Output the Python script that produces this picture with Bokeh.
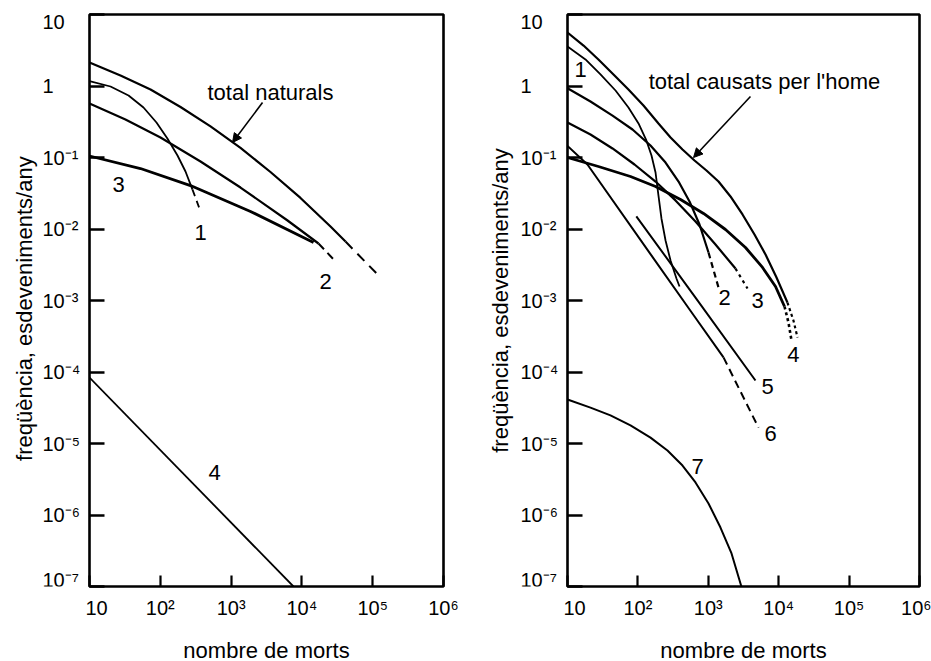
from bokeh.plotting import figure
from bokeh.models import (FixedTicker, CustomJSTickFormatter, Arrow, NormalHead, Range1d)
from bokeh.layouts import row
from bokeh.embed import file_html
from bokeh.resources import INLINE
from bokeh.core.properties import value

FONT = "Liberation Sans"

# ---------------- axes ----------------
x_ticks = [10, 100, 1000, 10000, 100000, 1000000]
x_tick_labels = ["10", "10²", "10³", "10⁴", "10⁵", "10⁶"]
y_ticks = [10, 1, 0.1, 0.01, 0.001, 1e-4, 1e-5, 1e-6, 1e-7]
y_tick_labels = ["10", "1", "10⁻¹", "10⁻²", "10⁻³", "10⁻⁴", "10⁻⁵", "10⁻⁶", "10⁻⁷"]
x_title = "nombre de morts"
y_title = "freqüència, esdeveniments/any"

# ---------------- left panel: natural events ----------------
nat_total_x = [10, 27.4, 72.8, 193, 512, 1358, 3597, 9550, 25350, 41300]
nat_total_y = [2.13, 1.40, 0.893, 0.508, 0.272, 0.136, 0.0627, 0.0272, 0.01084, 0.00668]
nat_total_dash_x = [41300, 128800]
nat_total_dash_y = [0.00668, 0.0021]

nat1_x = [10, 19.8, 35.6, 57.9, 88.3, 126, 175, 227, 285]
nat1_y = [1.17, 0.984, 0.736, 0.500, 0.309, 0.1845, 0.1067, 0.0637, 0.0356]
nat1_dash_x = [285, 370]
nat1_dash_y = [0.0356, 0.0176]

nat2_x = [10, 32.2, 100.7, 370, 1358, 6270, 17150]
nat2_y = [0.569, 0.340, 0.1906, 0.0879, 0.0380, 0.01315, 0.00627]
nat2_dash_x = [17150, 30000]
nat2_dash_y = [0.00627, 0.0035]

nat3_x = [10, 52.5, 267, 1880, 14600]
nat3_y = [0.105, 0.0701, 0.0405, 0.0176, 0.00647]

nat4_x = [10, 7600]
nat4_y = [8.37e-5, 1e-7]

nat_label_text = ["1", "2", "3", "4"]
nat_label_x = [370, 21550, 25.7, 583]
nat_label_y = [0.00893, 0.001845, 0.0419, 3.93e-6]
nat_title = "total naturals"

# ---------------- right panel: man-caused events ----------------
man_total_x = [10, 16.9, 27.5, 45.0, 73.4, 120, 196, 291, 430, 637, 942, 1396,
               2066, 3062, 4531, 6500, 9310, 13300]
man_total_y = [5.60, 3.68, 2.35, 1.45, 0.893, 0.533, 0.299, 0.1905, 0.1294, 0.0908,
               0.0658, 0.0461, 0.0285, 0.01596, 0.00837, 0.00440, 0.00210, 0.000937]
man_total_dot_x = [13300, 16200, 18500]
man_total_dot_y = [0.000937, 0.000525, 0.000304]

man1_x = [10, 18.0, 29.4, 48.1, 73.4, 102, 132, 156, 178, 196, 216, 247, 291, 353, 390]
man1_y = [3.56, 2.35, 1.45, 0.865, 0.500, 0.299, 0.173, 0.1067, 0.0617, 0.0294,
          0.01403, 0.0069, 0.00362, 0.00203, 0.00157]

man2_x = [10, 21.2, 43.6, 83.8, 151, 247, 378, 541, 750, 1007]
man2_y = [0.93, 0.607, 0.386, 0.2466, 0.1472, 0.0851, 0.0461, 0.0243, 0.01156, 0.00469]
man2_dash_x = [1007, 1396]
man2_dash_y = [0.00469, 0.00152]

man3_x = [10, 21.2, 43.6, 89.5, 178, 342, 658, 1265, 2432]
man3_y = [0.309, 0.210, 0.1337, 0.0798, 0.0461, 0.0251, 0.01274, 0.00607, 0.0028]
man3_dot_x = [2432, 3606]
man3_dot_y = [0.0028, 0.00147]

man4_x = [10, 27.5, 78.5, 178, 403, 855, 1754, 3373, 5890, 9010, 12090]
man4_y = [0.1, 0.0748, 0.0542, 0.0393, 0.0259, 0.01648, 0.00984, 0.00551, 0.00290,
          0.00157, 0.000824]
man4_dot_x = [12090, 13770, 15200]
man4_dot_y = [0.000824, 0.000492, 0.000276]

man5_x = [95, 658, 4677]
man5_y = [0.0150, 0.00110, 7.6e-5]

man6_x = [10, 19.2, 151, 558, 1644]
man6_y = [0.145, 0.0798, 0.00446, 7.18e-4, 1.60e-4]
man6_dash_x = [1644, 2866, 5165]
man6_dash_y = [1.60e-4, 5.33e-5, 1.67e-5]

man7_x = [10, 21.2, 40.8, 78.5, 151, 263, 430, 658, 1007, 1489, 2138, 2950]
man7_y = [4.12e-5, 3.18e-5, 2.47e-5, 1.79e-5, 1.21e-5, 7.98e-6, 4.92e-6, 2.85e-6,
          1.45e-6, 6.68e-7, 2.90e-7, 1.0e-7]

man_label_text = ["1", "2", "3", "4", "5", "6", "7"]
man_label_x = [15.3, 1700, 5000, 16200, 6935, 7650, 703]
man_label_y = [1.70, 0.0011, 1.0e-3, 1.76e-4, 6.27e-5, 1.38e-5, 4.77e-6]
man_title = "total causats per l'home"

# annotation anchor points (data space)
nat_title_pos = (3597, 0.824)
nat_arrow = (2780, 0.587, 1047, 0.162)
man_title_pos = (6280, 1.156)
man_arrow = (3972, 0.713, 617, 0.1)

X_FMT = """
let best = 0, bd = Infinity;
for (let i = 0; i < tv.length; i++) {
  const d = Math.abs(Math.log10(tick) - Math.log10(tv[i]));
  if (d < bd) { bd = d; best = i; }
}
return tl[best];
"""

FRAME_H = 572
TOP = 14
BOTTOM = 75


def make_panel(frame_w, border_r):
    p = figure(title=None, x_axis_type="log", y_axis_type="log",
               x_range=Range1d(10, 1e6), y_range=Range1d(1e-7, 10),
               frame_width=frame_w, frame_height=FRAME_H,
               min_border_left=4, min_border_right=border_r,
               min_border_top=TOP, min_border_bottom=BOTTOM,
               toolbar_location=None, output_backend="svg",
               background_fill_color="white", border_fill_color="white")
    p.xgrid.visible = False
    p.ygrid.visible = False
    p.outline_line_color = "black"
    p.outline_line_width = 2.6

    xa = p.xaxis[0]
    xa.ticker = FixedTicker(ticks=x_ticks)
    xa.formatter = CustomJSTickFormatter(args=dict(tv=x_ticks, tl=x_tick_labels), code=X_FMT)
    xa.axis_line_color = None
    xa.major_tick_in = 11
    xa.major_tick_out = 0
    xa.major_tick_line_width = 2.2
    xa.minor_tick_line_color = None
    xa.major_label_text_font = FONT
    xa.major_label_text_font_size = "20px"
    xa.major_label_text_color = "black"
    xa.major_label_standoff = 10
    xa.axis_label = x_title
    xa.axis_label_text_font = FONT
    xa.axis_label_text_font_size = "22px"
    xa.axis_label_text_font_style = "normal"
    xa.axis_label_text_color = "black"
    xa.axis_label_standoff = 16

    ya = p.yaxis[0]
    ya.ticker = FixedTicker(ticks=y_ticks)
    ya.formatter = CustomJSTickFormatter(code="return ''")
    ya.axis_line_color = None
    ya.major_tick_in = 15
    ya.major_tick_out = 0
    ya.major_label_standoff = 0
    ya.major_tick_line_width = 2.4
    ya.minor_tick_line_color = None
    return p


def make_side(width, label_x, title_x, title_y):
    """Narrow strip holding the y tick labels and the y title, on the same log y scale
    and with the same vertical frame as the panel next to it."""
    s = figure(title=None, y_axis_type="log",
               x_range=Range1d(0, width), y_range=Range1d(1e-7, 10),
               frame_width=width, frame_height=FRAME_H,
               min_border_left=0, min_border_right=0,
               min_border_top=TOP, min_border_bottom=BOTTOM,
               x_axis_location=None, y_axis_location=None,
               toolbar_location=None, output_backend="svg",
               background_fill_color="white", border_fill_color="white")
    s.outline_line_color = None
    s.grid.visible = False
    y_label_nudge = [7, 0, 0, 0, 0, 0, 0, 0, -7]
    s.text(x=label_x, y=y_ticks, text=y_tick_labels, y_offset=y_label_nudge,
           text_font=value(FONT), text_font_size="20px", text_color="black",
           text_align="left", text_baseline="middle")
    s.text(x=[title_x], y=[title_y], text=[y_title], angle=1.5707963,
           text_font=value(FONT), text_font_size="22px", text_color="black",
           text_align="center", text_baseline="middle")
    return s


def curve(p, xs, ys, w=2.0, dash="solid"):
    p.line(xs, ys, line_color="black", line_width=w, line_dash=dash)


def labels(p, xs, ys, texts):
    p.text(x=xs, y=ys, text=texts, text_font=value(FONT), text_font_size="22px",
           text_align="center", text_baseline="middle", text_color="black")


# ---- left
s1 = make_side(85, 42, 24, 7.7e-4)
p1 = make_panel(354, 27)
curve(p1, nat_total_x, nat_total_y, 2.2)
curve(p1, nat_total_dash_x, nat_total_dash_y, 2.0, "10 7")
curve(p1, nat1_x, nat1_y, 1.8)
curve(p1, nat1_dash_x, nat1_dash_y, 1.8, "7 5")
curve(p1, nat2_x, nat2_y, 2.2)
curve(p1, nat2_dash_x, nat2_dash_y, 2.0, "8 5")
curve(p1, nat3_x, nat3_y, 2.8)
curve(p1, nat4_x, nat4_y, 1.8)
labels(p1, nat_label_x, nat_label_y, nat_label_text)
labels(p1, [nat_title_pos[0]], [nat_title_pos[1]], [nat_title])
p1.add_layout(Arrow(end=NormalHead(size=9, fill_color="black", line_color="black"),
                    x_start=nat_arrow[0], y_start=nat_arrow[1],
                    x_end=nat_arrow[2], y_end=nat_arrow[3],
                    line_width=1.6, line_color="black"))

# ---- right
s2 = make_side(93, 50, 30, 1.0e-3)
p2 = make_panel(352, 12)
curve(p2, man_total_x, man_total_y, 2.2)
curve(p2, man_total_dot_x, man_total_dot_y, 2.2, "3 3")
curve(p2, man1_x, man1_y, 1.8)
curve(p2, man2_x, man2_y, 2.2)
curve(p2, man2_dash_x, man2_dash_y, 2.2, "6 4")
curve(p2, man3_x, man3_y, 2.2)
curve(p2, man3_dot_x, man3_dot_y, 2.2, "3 4")
curve(p2, man4_x, man4_y, 2.8)
curve(p2, man4_dot_x, man4_dot_y, 2.6, "3 3")
curve(p2, man5_x, man5_y, 2.0)
curve(p2, man6_x, man6_y, 2.0)
curve(p2, man6_dash_x, man6_dash_y, 2.0, "8 5")
curve(p2, man7_x, man7_y, 2.0)
labels(p2, man_label_x, man_label_y, man_label_text)
labels(p2, [man_title_pos[0]], [man_title_pos[1]], [man_title])
p2.add_layout(Arrow(end=NormalHead(size=9, fill_color="black", line_color="black"),
                    x_start=man_arrow[0], y_start=man_arrow[1],
                    x_end=man_arrow[2], y_end=man_arrow[3],
                    line_width=1.6, line_color="black"))

layout = row(s1, p1, s2, p2)
open("out.html", "w").write(file_html(layout, INLINE))
